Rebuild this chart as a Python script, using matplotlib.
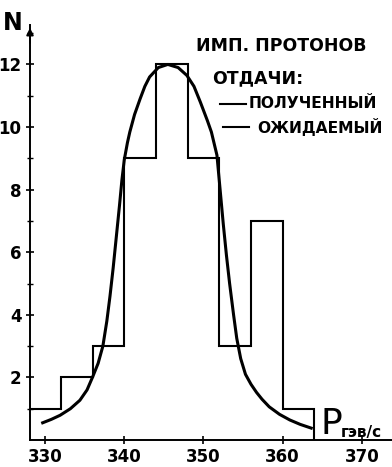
"""Recoil-proton momentum distribution: measured histogram vs expected curve."""

import matplotlib

matplotlib.use("Agg")
import matplotlib.pyplot as plt

# Histogram bins (momentum, x100 GeV/c) and counts per bin
bin_edges = [328, 332, 336, 340, 344, 348, 352, 356, 360, 364]
counts = [1, 2, 3, 9, 12, 9, 3, 7, 1]

# Expected distribution
curve_p = [329.7, 330.8, 331.9, 333.2, 334.4, 335.3, 336.0, 336.7, 337.3,
           337.8, 338.2, 338.6, 339.0, 339.4, 339.7, 340.0, 340.4, 340.7,
           341.3, 342.0, 342.6, 343.2, 344.3, 345.5, 346.8, 347.9, 348.8,
           349.6, 350.5, 351.0, 351.7, 352.1, 352.5, 352.9, 353.3, 353.8,
           354.2, 354.7, 355.3, 356.0, 356.7, 357.4, 358.3, 359.6, 360.9,
           362.2, 363.6]
curve_n = [0.55, 0.66, 0.79, 1.0, 1.27, 1.6, 2.01, 2.45, 3.0,
           3.8, 4.6, 5.5, 6.5, 7.5, 8.3, 8.95, 9.5, 9.84,
           10.4, 10.9, 11.3, 11.6, 11.9, 12.0, 11.9, 11.65, 11.3,
           10.8, 10.2, 9.84, 9.1, 8.0, 6.9, 5.9, 5.0, 4.0,
           3.25, 2.6, 2.1, 1.78, 1.52, 1.3, 1.06, 0.82, 0.64,
           0.5, 0.38]

x_ticks = [330, 340, 350, 360, 370]
x_tick_labels = ["330", "340", "350", "360", "370"]
y_ticks = [2, 4, 6, 8, 10, 12]
y_minor = [1, 3, 5, 7, 9, 11, 13]

legend_title = ["ИМП. ПРОТОНОВ", "ОТДАЧИ:"]
legend_entries = ["ПОЛУЧЕННЫЙ", "ОЖИДАЕМЫЙ"]

W, H = 392, 467
fig = plt.figure(figsize=(W / 100, H / 100), dpi=100)
ax = fig.add_axes([30 / W, 27 / H, 362 / W, 415 / H])

ax.stairs(counts, bin_edges, baseline=0, color="black", linewidth=1.5)
ax.plot(curve_p, curve_n, color="black", linewidth=2.2)

ax.set_xlim(328.1, 373.8)
ax.set_ylim(0, 13.26)

for side in ("top", "right"):
    ax.spines[side].set_visible(False)
for side in ("left", "bottom"):
    ax.spines[side].set_linewidth(1.4)

ax.set_xticks(x_ticks)
ax.set_xticklabels(x_tick_labels)
ax.set_yticks(y_ticks)
ax.set_yticks(y_minor, minor=True)
ax.tick_params(axis="both", which="major", direction="inout", length=6,
               width=1.2, labelsize=12, pad=3)
ax.tick_params(axis="y", which="minor", direction="inout", length=4, width=1)
for lab in ax.get_xticklabels() + ax.get_yticklabels():
    lab.set_fontweight("bold")

# arrow head on the N axis
ax.annotate("", xy=(0, 1.0), xytext=(0, 0.95), xycoords="axes fraction",
            arrowprops=dict(arrowstyle="-|>", color="black", lw=1.4,
                            mutation_scale=10))

fig.text(3 / W, 1 - 30 / H, "N", fontsize=17, fontweight="bold")
fig.text(321 / W, 1 - 434 / H, "P", fontsize=26)
fig.text(341 / W, 1 - 437 / H, "гэв/с", fontsize=11, fontweight="bold")

# legend block
fig.text(196 / W, 1 - 46 / H, legend_title[0], fontsize=12.5,
         fontweight="bold", va="center")
fig.text(212 / W, 1 - 78 / H, legend_title[1], fontsize=12.5,
         fontweight="bold", va="center")
for i, (label, y) in enumerate(zip(legend_entries, (104, 127))):
    x0 = 220 if i == 0 else 223
    fig.add_artist(plt.Line2D([x0 / W, (x0 + 26) / W], [1 - y / H] * 2,
                              color="black", linewidth=1.5))
    fig.text((x0 + 29 + 5 * i) / W, 1 - y / H, label, fontsize=11.2,
             fontweight="bold", va="center")

fig.savefig("out.png", dpi=100)
